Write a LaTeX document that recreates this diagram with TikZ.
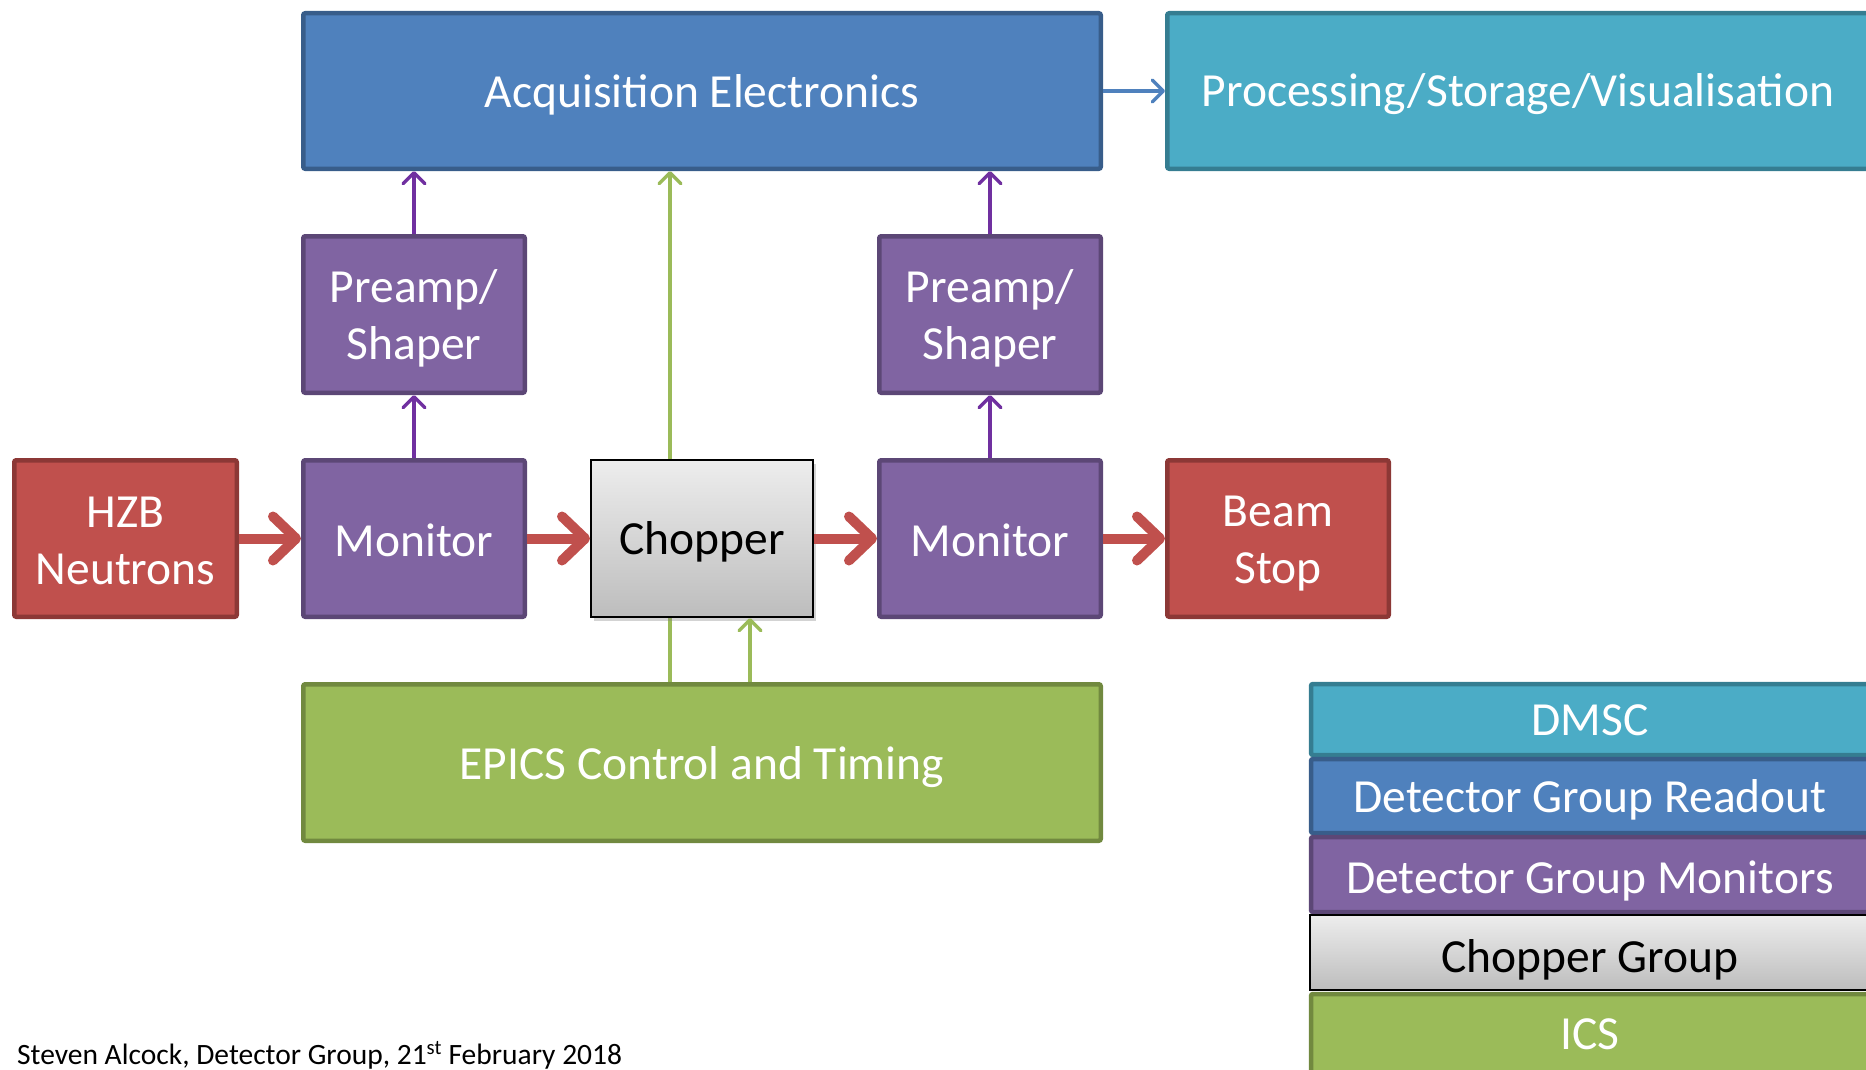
\documentclass[tikz,border=0pt]{standalone}
\usepackage{fontspec}
\setmainfont{Carlito}
\usetikzlibrary{arrows.meta,shadows,backgrounds}
\definecolor{redF}{HTML}{C0504D}\definecolor{redD}{HTML}{8C3836}
\definecolor{purF}{HTML}{8064A2}\definecolor{purD}{HTML}{5C4776}
\definecolor{bluF}{HTML}{4F81BD}\definecolor{bluD}{HTML}{385D8A}
\definecolor{teaF}{HTML}{4BACC6}\definecolor{teaD}{HTML}{357D91}
\definecolor{grnF}{HTML}{9BBB59}\definecolor{grnD}{HTML}{71893F}
\definecolor{purL}{HTML}{7030A0}
\definecolor{gryT}{HTML}{EDEDED}\definecolor{gryB}{HTML}{BDBDBD}
% lower the glyphs of a line without changing its box
\newcommand\txdn[2]{\raisebox{-#1pt}[\height][\depth]{#2}}
\tikzset{
  box/.style={draw, line width=4.5pt, rounded corners=2pt, align=center, text=white,
    font=\fontsize{47.5}{57.5}\selectfont, inner sep=0pt},
  redbox/.style={box, fill=redF, draw=redD},
  purbox/.style={box, fill=purF, draw=purD},
  blubox/.style={box, fill=bluF, draw=bluD},
  teabox/.style={box, fill=teaF, draw=teaD},
  grnbox/.style={box, fill=grnF, draw=grnD},
  grybox/.style={box, draw=black, line width=2pt, rounded corners=0pt, text=black,
    top color=gryT, bottom color=gryB},
  bigarrow/.style={draw=redF, line width=10pt, -{Straight Barb[length=23pt, width=44pt, round]}},
  thinarrow/.style={line width=3.5pt, -{Straight Barb[length=11pt, width=22pt, round]}},
  purarrow/.style={thinarrow, draw=purL},
  grnarrow/.style={thinarrow, draw=grnF},
  bluarrow/.style={thinarrow, draw=bluF},
}
\begin{document}
\begin{tikzpicture}[x=1pt,y=-1pt]
\useasboundingbox (0,0) rectangle (1866,1070);
\clip (0,0) rectangle (1866,1070);

% top row
\node[blubox, minimum width=797.5pt, minimum height=155.5pt] (acq) at (702,91) {\txdn{3.5}{Acquisition Electronics}};
\node[teabox, minimum width=701.5pt, minimum height=155.5pt] (proc) at (1518,91) {\txdn{3.5}{Processing/Storage/Visualisation}};

% preamps
\node[purbox, minimum width=221.5pt, minimum height=156.5pt] (pre1) at (414,314.5) {\txdn{4}{Preamp/}\\\txdn{4}{Shaper}};
\node[purbox, minimum width=221.5pt, minimum height=156.5pt] (pre2) at (990,314.5) {\txdn{4}{Preamp/}\\\txdn{4}{Shaper}};

% beam row
\node[redbox, minimum width=222.5pt, minimum height=156.5pt] (hzb) at (125.5,538.5) {\txdn{2.5}{HZB}\\\txdn{2.5}{Neutrons}};
\node[purbox, minimum width=221.5pt, minimum height=156.5pt] (mon1) at (414,538.5) {\txdn{1.5}{Monitor}};
\node[grybox, drop shadow={shadow xshift=3pt, shadow yshift=-4pt, opacity=0.35}, minimum width=222pt, minimum height=157pt] (chop) at (702,538.5) {\txdn{3.5}{Chopper}};
\node[purbox, minimum width=221.5pt, minimum height=156.5pt] (mon2) at (990,538.5) {\txdn{1.5}{Monitor}};
\node[redbox, minimum width=221.5pt, minimum height=156.5pt] (beam) at (1278,538.5) {\txdn{5}{Beam}\\\txdn{5}{Stop}};

% EPICS
\node[grnbox, minimum width=797.5pt, minimum height=156.5pt] (epics) at (702,762.5) {\txdn{5}{EPICS Control and Timing}};

% legend
\node[teabox, minimum width=558pt, minimum height=71pt] (lg1) at (1590,719.5) {\txdn{1}{DMSC}};
\node[blubox, minimum width=558pt, minimum height=74pt] (lg2) at (1590,796) {\txdn{3.5}{Detector Group Readout}};
\node[purbox, minimum width=558pt, minimum height=75pt] (lg3) at (1590,874.5) {\txdn{6}{Detector Group Monitors}};
\node[grybox, minimum width=560pt, minimum height=75pt] (lg4) at (1590,952.5) {\txdn{7}{Chopper Group}};
\node[grnbox, minimum width=558pt, minimum height=84pt] (lg5) at (1590,1036) {\txdn{-2}{ICS}};

% connectors
\begin{pgfonlayer}{background}
\draw[grnarrow] ([xshift=-32pt]epics.north) -- ([xshift=-32pt]acq.south);
\end{pgfonlayer}
\draw[grnarrow] ([xshift=48pt]epics.north) -- ([xshift=48pt]chop.south);

\draw[bigarrow] (hzb.east) -- (mon1.west);
\draw[bigarrow] (mon1.east) -- (chop.west);
\draw[bigarrow] (chop.east) -- (mon2.west);
\draw[bigarrow] (mon2.east) -- (beam.west);

\draw[purarrow] (mon1.north) -- (pre1.south);
\draw[purarrow] (pre1.north) -- (pre1.north |- acq.south);
\draw[purarrow] (mon2.north) -- (pre2.south);
\draw[purarrow] (pre2.north) -- (pre2.north |- acq.south);

\draw[bluarrow] (acq.east) -- (proc.west);

% footer
\node[anchor=base west, font=\fontsize{29.5}{34}\selectfont, inner sep=0pt] (foot) at (17,1064) {Steven Alcock, Detector Group, 21\textsuperscript{st} February 2018};
\end{tikzpicture}
\end{document}
